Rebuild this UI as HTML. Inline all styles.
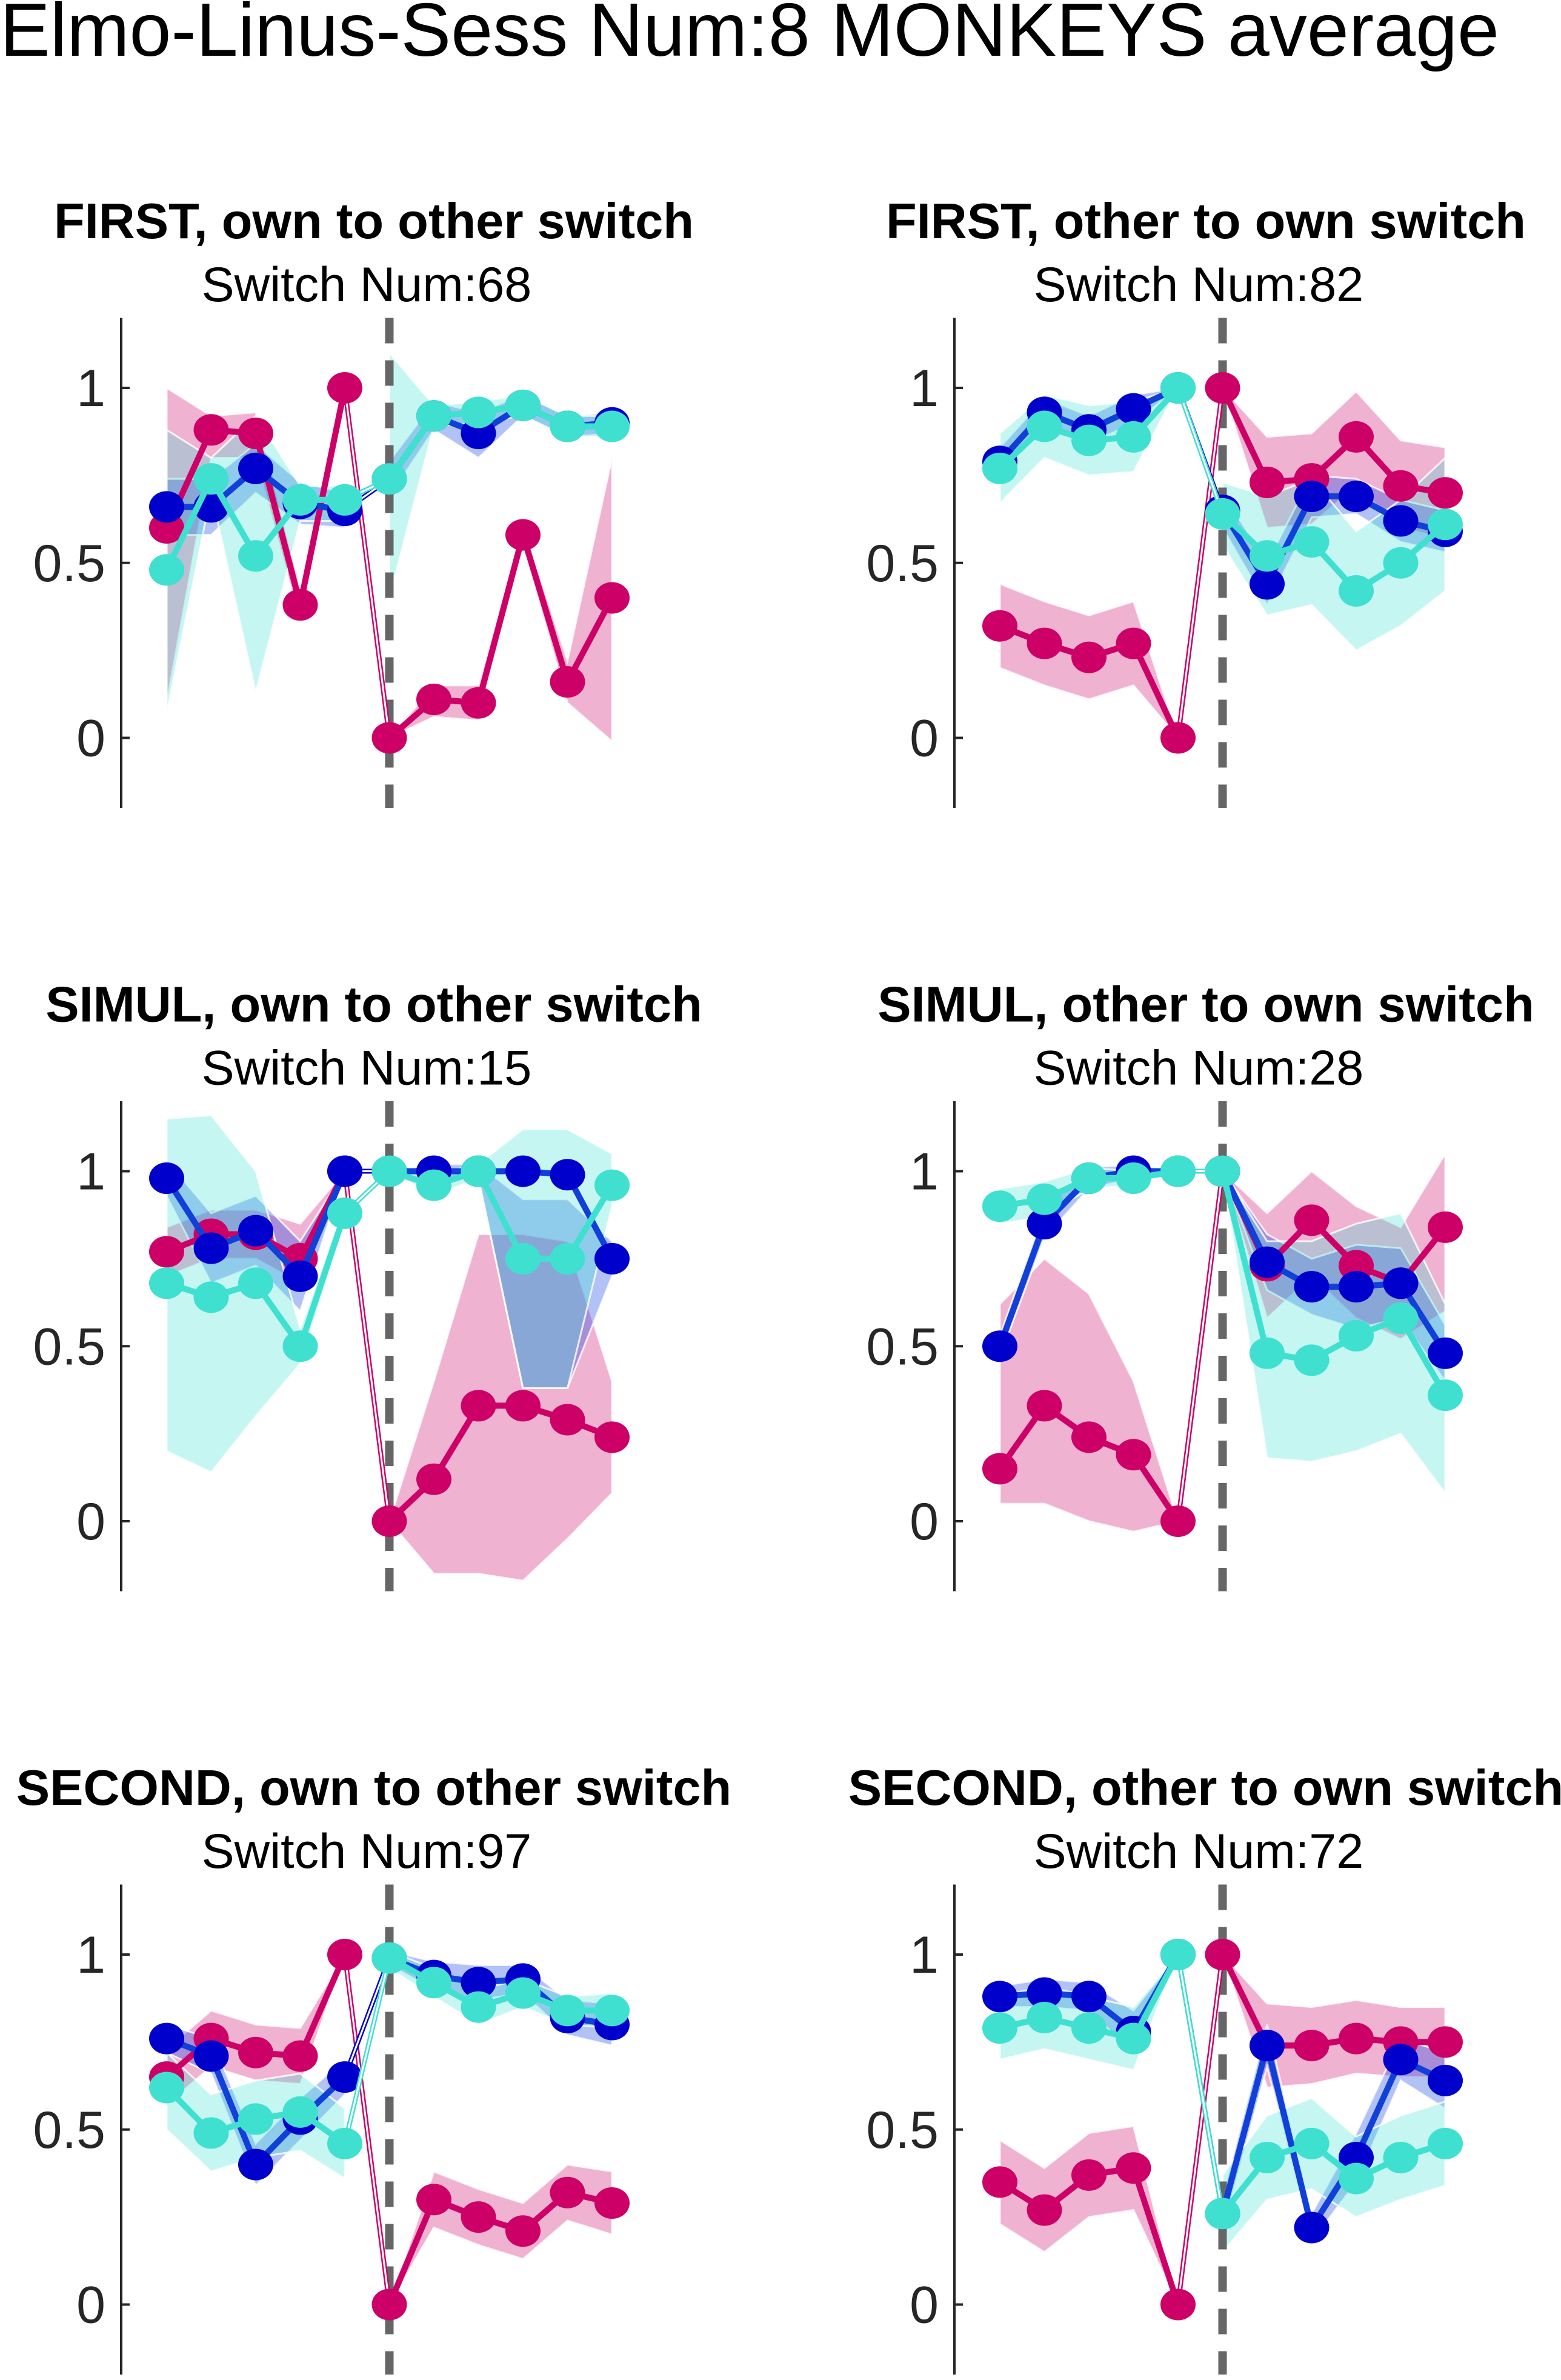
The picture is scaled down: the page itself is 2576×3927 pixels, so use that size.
<!DOCTYPE html>
<html><head><meta charset="utf-8"><style>
html,body{margin:0;padding:0;background:#fff}
svg{display:block}
text{font-family:"Liberation Sans",Arial,sans-serif}
</style></head><body>
<svg id="chart" width="2576" height="3927" viewBox="0 0 2576 3927" xmlns="http://www.w3.org/2000/svg">
<text x="0" y="92" font-size="124" fill="#000">Elmo-Linus-Sess Num:8 MONKEYS average</text>
</svg>
<script>
const panelTitles = ["FIRST, own to other switch","FIRST, other to own switch","SIMUL, own to other switch","SIMUL, other to own switch","SECOND, own to other switch","SECOND, other to own switch"];
const switchNums = [68,82,15,28,97,72];
const xSteps = [-5,-4,-3,-2,-1,0,1,2,3,4,5];
const yTicks = [0,0.5,1];
const yTickLabels = ["0","0.5","1"];
const magenta = [
 [0.60,0.88,0.87,0.38,1.0, 0.0,0.11,0.10,0.58,0.16,0.40],
 [0.32,0.27,0.23,0.27,0.0, 1.0,0.73,0.74,0.86,0.72,0.70],
 [0.77,0.82,0.82,0.75,1.0, 0.0,0.12,0.33,0.33,0.29,0.24],
 [0.15,0.33,0.24,0.19,0.0, 1.0,0.73,0.86,0.73,0.68,0.84],
 [0.65,0.76,0.72,0.71,1.0, 0.0,0.30,0.25,0.21,0.32,0.29],
 [0.35,0.27,0.37,0.39,0.0, 1.0,0.74,0.74,0.76,0.75,0.75]];
const magentaLo = [
 [0.10,0.80,0.80,0.33,1.0, 0.0,0.06,0.05,0.55,0.10,-0.01],
 [0.20,0.15,0.11,0.15,0.0, 1.0,0.60,0.61,0.72,0.60,0.57],
 [0.70,0.75,0.75,0.68,1.0, 0.0,-0.15,-0.15,-0.17,-0.05,0.08],
 [0.05,0.05,0.00,-0.03,0.0, 1.0,0.58,0.70,0.58,0.52,0.60],
 [0.57,0.68,0.64,0.63,1.0, 0.0,0.22,0.17,0.13,0.24,0.20],
 [0.23,0.15,0.25,0.27,0.0, 1.0,0.62,0.63,0.66,0.65,0.65]];
const magentaHi = [
 [1.00,0.92,0.93,0.43,1.0, 0.0,0.15,0.15,0.61,0.22,0.80],
 [0.44,0.39,0.35,0.39,0.0, 1.0,0.86,0.87,0.99,0.85,0.83],
 [0.84,0.89,0.89,0.85,1.0, 0.0,0.40,0.82,0.82,0.80,0.40],
 [0.62,0.75,0.65,0.40,0.0, 1.0,0.88,1.00,0.90,0.84,1.05],
 [0.73,0.84,0.80,0.79,1.0, 0.0,0.38,0.33,0.29,0.40,0.38],
 [0.47,0.39,0.49,0.51,0.0, 1.0,0.86,0.85,0.87,0.85,0.85]];
const blue = [
 [0.66,0.66,0.77,0.67,0.65, 0.74,0.92,0.87,0.95,0.89,0.90],
 [0.79,0.93,0.88,0.94,1.0, 0.65,0.44,0.69,0.69,0.62,0.59],
 [0.98,0.78,0.83,0.70,1.0, 1.0,1.0,1.0,1.0,0.99,0.75],
 [0.50,0.85,0.98,1.0,1.0, 1.0,0.74,0.67,0.67,0.68,0.48],
 [0.76,0.71,0.40,0.53,0.65, 0.99,0.94,0.92,0.93,0.82,0.80],
 [0.88,0.89,0.88,0.78,1.0, 0.26,0.74,0.22,0.42,0.70,0.64]];
const blueLo = [
 [0.58,0.58,0.70,0.61,0.60, 0.69,0.88,0.80,0.92,0.86,0.87],
 [0.75,0.89,0.84,0.90,1.0, 0.60,0.38,0.63,0.64,0.56,0.53],
 [0.93,0.68,0.73,0.60,1.0, 1.0,0.98,0.98,0.38,0.38,0.70],
 [0.47,0.81,0.95,0.98,1.0, 1.0,0.66,0.59,0.55,0.58,0.40],
 [0.72,0.66,0.34,0.47,0.60, 0.97,0.90,0.87,0.89,0.77,0.74],
 [0.85,0.85,0.84,0.72,1.0, 0.21,0.68,0.18,0.35,0.64,0.56]];
const blueHi = [
 [0.74,0.74,0.84,0.73,0.70, 0.79,0.96,0.93,0.98,0.92,0.93],
 [0.83,0.97,0.92,0.98,1.0, 0.70,0.50,0.75,0.74,0.68,0.65],
 [1.03,0.88,0.93,0.80,1.0, 1.0,1.02,1.02,0.92,0.92,0.80],
 [0.53,0.89,1.01,1.02,1.0, 1.0,0.82,0.75,0.79,0.78,0.56],
 [0.80,0.76,0.46,0.59,0.70, 1.01,0.98,0.97,0.97,0.87,0.86],
 [0.91,0.93,0.92,0.84,1.0, 0.31,0.80,0.26,0.49,0.76,0.72]];
const cyan = [
 [0.48,0.74,0.52,0.68,0.68, 0.74,0.92,0.93,0.95,0.89,0.89],
 [0.77,0.89,0.85,0.86,1.0, 0.64,0.52,0.56,0.42,0.50,0.61],
 [0.68,0.64,0.68,0.50,0.88, 1.0,0.96,1.0,0.75,0.75,0.96],
 [0.90,0.92,0.98,0.98,1.0, 1.0,0.48,0.46,0.53,0.58,0.36],
 [0.62,0.49,0.53,0.55,0.46, 0.99,0.92,0.85,0.89,0.84,0.84],
 [0.79,0.82,0.79,0.76,1.0, 0.26,0.42,0.46,0.36,0.42,0.46]];
const cyanLo = [
 [0.07,0.70,0.13,0.62,0.62, 0.40,0.89,0.90,0.92,0.86,0.86],
 [0.67,0.80,0.75,0.76,1.0, 0.55,0.35,0.38,0.25,0.32,0.42],
 [0.20,0.14,0.30,0.45,0.85, 1.0,0.93,0.98,0.38,0.38,0.90],
 [0.85,0.87,0.95,0.96,1.0, 1.0,0.18,0.17,0.20,0.25,0.08],
 [0.50,0.38,0.42,0.44,0.36, 0.96,0.88,0.80,0.85,0.80,0.79],
 [0.70,0.73,0.70,0.67,1.0, 0.15,0.30,0.33,0.25,0.30,0.34]];
const cyanHi = [
 [0.88,0.80,0.92,0.72,0.72, 1.10,0.95,0.96,0.98,0.92,0.92],
 [0.87,0.98,0.95,0.96,1.0, 0.73,0.69,0.74,0.59,0.68,0.80],
 [1.15,1.16,1.00,0.55,0.91, 1.0,0.99,1.02,1.12,1.12,1.05],
 [0.95,0.97,1.01,1.00,1.0, 1.0,0.80,0.80,0.85,0.88,0.62],
 [0.72,0.60,0.64,0.66,0.56, 1.01,0.96,0.90,0.93,0.88,0.89],
 [0.88,0.91,0.88,0.85,1.0, 0.37,0.54,0.59,0.48,0.54,0.58]];

const svg = document.getElementById('chart');
const NS = 'http://www.w3.org/2000/svg';
function mk(tag, attrs){const e=document.createElementNS(NS,tag);for(const k in attrs)e.setAttribute(k,attrs[k]);svg.appendChild(e);return e;}
const colors = {magenta:'#cc0066', blue:'#0000cc', cyan:'#40e0d0'};
const lineColors = {magenta:'#cc0066', blue:'#1040d8', cyan:'#40e0d0'};
const bandFill = {magenta:'rgba(204,0,102,0.3)', blue:'rgba(20,70,230,0.33)', cyan:'rgba(64,224,208,0.3)'};

for(let p=0;p<6;p++){
  const col=p%2,row=Math.floor(p/2);
  const ax=200+col*1375;
  const y0=1217.5+row*1292.5;
  const xS=k=>ax+442.5+k*73.5;
  const yS=v=>y0-v*577.5;
  let t=mk('text',{x:617+col*1373,y:393+row*1292.5,'font-size':83,'font-weight':'bold','text-anchor':'middle',fill:'#000'});
  
  
  t.textContent=panelTitles[p];
  t=mk('text',{x:605+col*1373,y:497+row*1292.5,'font-size':81,'text-anchor':'middle',fill:'#000'});
  
  
  t.textContent='Switch Num:'+switchNums[p];
  let a=mk('line',{x1:ax,x2:ax,y1:yS(1.2),y2:yS(-0.2),stroke:'#262626','stroke-width':4});
  
  
  yTicks.forEach((v,i)=>{
    const tk=mk('line',{x1:ax,x2:ax+14,y1:yS(v),y2:yS(v),stroke:'#262626','stroke-width':4});
    
    
    const tl=mk('text',{x:ax-26,y:yS(v)+30,'font-size':86,'text-anchor':'end',fill:'#262626'});
    
    
    tl.textContent=yTickLabels[i];
  });
  const bands=[['magenta',magentaLo[p],magentaHi[p]],['blue',blueLo[p],blueHi[p]],['cyan',cyanLo[p],cyanHi[p]]];
  bands.forEach(([nm,lo,hi])=>{
    [[0,5],[5,11]].forEach(([s,e])=>{
      let pts=[];
      for(let i=s;i<e;i++)pts.push(xS(xSteps[i])+','+yS(hi[i]));
      for(let i=e-1;i>=s;i--)pts.push(xS(xSteps[i])+','+yS(lo[i]));
      const b=mk('polygon',{points:pts.join(' '),fill:bandFill[nm],stroke:'rgba(255,255,255,0.8)','stroke-width':3});
      
      
    });
  });
  const dl=mk('line',{x1:xS(0),x2:xS(0),y1:yS(1.2),y2:yS(-0.2),stroke:'#666','stroke-width':14,'stroke-dasharray':'42 28'});
  
  
  [['magenta',magenta[p]],['blue',blue[p]],['cyan',cyan[p]]].forEach(([nm,vals])=>{
    const c1=mk('line',{x1:xS(xSteps[4]),y1:yS(vals[4]),x2:xS(xSteps[5]),y2:yS(vals[5]),stroke:colors[nm],'stroke-width':8});
    
    
    const c2=mk('line',{x1:xS(xSteps[4]),y1:yS(vals[4]),x2:xS(xSteps[5]),y2:yS(vals[5]),stroke:'#fff','stroke-width':3});
    
    
    [[0,5],[5,11]].forEach(([s,e])=>{
      let pts=[];
      for(let i=s;i<e;i++)pts.push(xS(xSteps[i])+','+yS(vals[i]));
      const pl=mk('polyline',{points:pts.join(' '),fill:'none',stroke:lineColors[nm],'stroke-width':10,'stroke-linejoin':'round'});
      
      
    });
    vals.forEach((v,i)=>{
      const m=mk('ellipse',{cx:xS(xSteps[i]),cy:yS(v),rx:29,ry:26,fill:colors[nm]});
      
      
    });
  });
}
</script>
</body></html>
